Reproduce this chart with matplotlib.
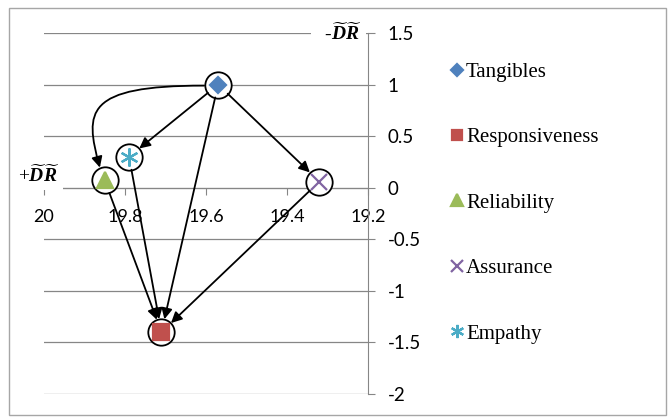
import matplotlib
matplotlib.use('Agg')
from matplotlib import pyplot as plt
from matplotlib.patches import Rectangle, FancyArrowPatch
from matplotlib.path import Path
from matplotlib.ticker import FuncFormatter, MultipleLocator

plt.rcParams['axes.unicode_minus'] = False
plt.rcParams['font.serif'] = ['Liberation Serif', 'DejaVu Serif']
plt.rcParams['mathtext.fontset'] = 'custom'
plt.rcParams['mathtext.rm'] = 'Liberation Serif'
plt.rcParams['mathtext.it'] = 'Liberation Serif:italic'
plt.rcParams['mathtext.bf'] = 'Liberation Serif:bold'
plt.rcParams['mathtext.bfit'] = 'Liberation Serif:italic:bold'

# dimensions: (D+R, D-R)
names = ['Tangibles', 'Responsiveness', 'Reliability', 'Assurance', 'Empathy']
d_plus_r = [19.57, 19.71, 19.85, 19.32, 19.79]
d_minus_r = [1.00, -1.40, 0.07, 0.06, 0.30]
colors = ['#4F81BD', '#C0504D', '#9BBB59', '#8064A2', '#4BACC6']
markers = ['D', 's', '^', 'x', (6, 2, 0)]
sizes = [8.5, 12, 11, 11, 13]
legend_sizes = [6, 7.5, 8.5, 8.5, 9.5]

# causal links (from, to)
links = [('Tangibles', 'Empathy'), ('Tangibles', 'Reliability'),
         ('Tangibles', 'Assurance'), ('Tangibles', 'Responsiveness'),
         ('Empathy', 'Responsiveness'), ('Reliability', 'Responsiveness'),
         ('Assurance', 'Responsiveness')]
curved = ('Tangibles', 'Reliability')

grey = '#868686'

fig = plt.figure(figsize=(6.68, 4.17), dpi=100)
fig.patches.append(Rectangle((9 / 668, 2 / 417), 657 / 668, 407 / 417,
                             transform=fig.transFigure, fill=False,
                             edgecolor='#A6A6A6', lw=1))
ax = fig.add_axes([44 / 668, 23 / 417, 324 / 668, 361 / 417])

ax.set_xlim(20, 19.2)
ax.set_ylim(-2, 1.5)
ax.xaxis.set_major_locator(MultipleLocator(0.2))
ax.yaxis.set_major_locator(MultipleLocator(0.5))
ax.xaxis.set_major_formatter(FuncFormatter(lambda v, p: '%g' % round(v, 1)))
ax.yaxis.set_major_formatter(FuncFormatter(lambda v, p: '%g' % round(v, 1)))

for s in ['left', 'top']:
    ax.spines[s].set_visible(False)
ax.spines['right'].set_color(grey)
ax.spines['bottom'].set_color(grey)
ax.spines['bottom'].set_position(('data', 0))
ax.yaxis.tick_right()
ax.grid(axis='y', color=grey, lw=0.9)
ax.set_axisbelow(True)
ax.tick_params(axis='y', direction='out', length=5, color=grey, pad=9,
               labelsize=13.5, labelfontfamily='Lato')
ax.tick_params(axis='x', direction='out', length=5, color=grey, pad=10,
               labelsize=13, labelfontfamily='Lato')

pos = {n: (x, y) for n, x, y in zip(names, d_plus_r, d_minus_r)}

for n, x, y, c, m, s in zip(names, d_plus_r, d_minus_r, colors, markers, sizes):
    ax.plot(x, y, 'o', ms=19, mfc='white', mec='black', mew=1.3, zorder=4)
    ax.plot(x, y, ls='none', marker=m, ms=s, color=c, mec=c, mew=1.6,
            label=n, zorder=5)

arrow_kw = dict(arrowstyle='-|>', color='black', lw=1.3, mutation_scale=16)
for a, b in links:
    if (a, b) == curved:
        continue
    ax.annotate('', xy=pos[b], xytext=pos[a],
                arrowprops=dict(shrinkA=9.5, shrinkB=9.5, **arrow_kw),
                zorder=6)

# looping link: leaves the left of the source circle, drops onto the target
(xa, ya), (xb, yb) = pos[curved[0]], pos[curved[1]]
verts = [(xa + 0.035, ya - 0.01), (xa + 0.33, ya - 0.01),
         (xb + 0.05, yb + 0.67), (xb + 0.012, yb + 0.125)]
loop = Path(verts, [Path.MOVETO, Path.CURVE4, Path.CURVE4, Path.CURVE4])
ax.add_patch(FancyArrowPatch(path=loop, zorder=6, **arrow_kw))

# quadrant labels
ax.text(19.215, 1.5, r'  -$\widetilde{\mathbfit{D}}\widetilde{\mathbfit{R}}$',
        ha='right', va='center', fontsize=14, family='serif',
        bbox=dict(fc='white', ec='none', pad=3), zorder=3)
ax.text(19.962, 0.12, r'+$\widetilde{\mathbfit{D}}\widetilde{\mathbfit{R}}$',
        ha='right', va='center', fontsize=14, family='serif',
        bbox=dict(fc='white', ec='none', pad=3), zorder=3)

leg = ax.legend(loc='upper left', bbox_to_anchor=(442 / 668, 363 / 417),
                bbox_transform=fig.transFigure, frameon=False,
                prop={'family': 'serif', 'size': 15},
                handlelength=0.6, handletextpad=0.15,
                labelspacing=2.2, borderaxespad=0)
for h, s in zip(leg.legend_handles, legend_sizes):
    h.set_markersize(s)

fig.savefig('out.png', dpi=100)
